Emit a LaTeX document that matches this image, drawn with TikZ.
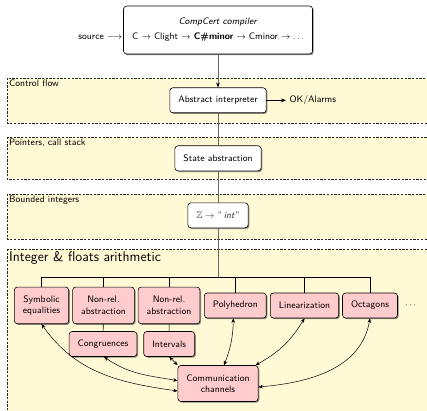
\documentclass[tikz,border=0pt]{standalone}
\definecolor{bandyellow}{RGB}{255,249,214}
\definecolor{boxpink}{RGB}{255,204,206}
\definecolor{linegray}{RGB}{105,105,105}
\usepackage{tikz}
\usetikzlibrary{arrows.meta,shadows}
\usepackage{amsmath,amssymb}

\begin{document}
\begin{tikzpicture}[x=1pt,y=1pt,
    font=\fontsize{9.4}{11.5}\selectfont\sffamily,
    box/.style={draw,semithick,rounded corners=3pt,fill=white,align=center,
      inner xsep=8.5pt,inner ysep=8pt,minimum height=25pt,
      drop shadow={shadow xshift=1.2pt,shadow yshift=-1.2pt,opacity=.6,fill=black!75}},
    dombox/.style={box,fill=boxpink},
    tall/.style={minimum height=36.7pt},
    band/.style={fill=bandyellow,draw=black!85,line width=0.6pt,dash pattern=on 2.3pt off 1.4pt},
    bandlabel/.style={anchor=north west,inner sep=2pt},
    feed/.style={draw=linegray,line width=0.8pt},
    link/.style={{Stealth[length=4.5pt,width=3.6pt]}-{Stealth[length=4.5pt,width=3.6pt]},line width=0.5pt}]
        \useasboundingbox (0,0) rectangle (427,410);
        % analysis layers
        \foreach \t/\b/\l in {332/287/Control flow, 273/231/{Pointers, call stack}, 216/171/Bounded integers} {
          \filldraw[band] (7,\t) rectangle (432,\b);
          \node[bandlabel] at (7,\t) {\l};
        }
        \filldraw[band] (7,161) rectangle (432,-5);
        \node[bandlabel,font=\fontsize{14}{17}\selectfont\sffamily] (arith) at (7,161) {Integer \& floats arithmetic};
        % compiler front
        \node[box,minimum width=189pt,minimum height=48pt] (cc) at (218,380)
          {\textit{CompCert compiler}\\[3.5pt] C $\rightarrow$ Clight $\rightarrow$ \textbf{C\#minor} $\rightarrow$ Cminor $\rightarrow \ldots$};
        \node[anchor=east,inner sep=0pt] (src) at ([xshift=-1pt,yshift=-7.5pt]cc.west) {source $\longrightarrow$};
        % interpreter chain
        \node[box] (ai) at (218,309.7) {Abstract interpreter};
        \node[anchor=west] (ok) at (286,309.7) {OK/Alarms};
        \node[box] (sa) at (218,251.7) {State abstraction};
        \node[box,text=black!80] (zint) at (218,194.7) {$\mathbb{Z}\rightarrow$ "\,\textit{int}"};
        % numerical domains
        \node[dombox,tall] (sym) at (41.5,104.6) {Symbolic\\equalities};
        \node[dombox,tall] (nr1) at (103.5,104.6) {Non-rel.\\abstraction};
        \node[dombox,tall] (nr2) at (169,104.6) {Non-rel.\\abstraction};
        \node[dombox] (poly) at (235.3,104.5) {Polyhedron};
        \node[dombox] (lin) at (304.5,104.5) {Linearization};
        \node[dombox] (oct) at (370,104.5) {Octagons};
        \node (more) at (411.5,105) {$\cdots$};
        \node[dombox] (cong) at (103,66) {Congruences};
        \node[dombox] (itv) at (169.2,66) {Intervals};
        \node[dombox,minimum height=36pt] (comm) at (218,26.5) {Communication\\channels};
        % wiring
        \coordinate (bus) at (218,132.5);
        \draw[feed,-{Stealth[length=5pt,color=black]}] (cc) -- (ai);
        \draw[feed] (ai) -- (sa);
        \draw[feed] (sa) -- (zint);
        \draw[feed] (zint) -- (bus);
        \draw[semithick,-{Stealth[length=5pt]}] (ai) -- (ok);
        \draw[semithick] (sym.north) |- (bus) -| (oct.north);
        \foreach \d in {nr1,nr2,poly,lin}
          \draw[semithick] (\d.north) -- (\d.north |- bus);
        \draw[semithick] (nr1) -- (cong);
        \draw[semithick] (nr2) -- (itv);
        % channels
        \draw[link] (sym.south) to[out=-55,in=172] ([yshift=-7.5pt]comm.west);
        \draw[link] ([xshift=1pt]cong.south) to[out=-35,in=170] ([yshift=2.8pt]comm.west);
        \draw[link] (itv.south) -- (comm.north west);
        \draw[link] ([xshift=-2pt]poly.south) to[bend left=10] ([xshift=6pt]comm.north);
        \draw[link] (lin.south) to[bend left=15] ([xshift=-3pt]comm.north east);
        \draw[link] (oct.south) to[out=-100,in=5] ([yshift=-3.5pt]comm.east);
      \end{tikzpicture}
\end{document}
